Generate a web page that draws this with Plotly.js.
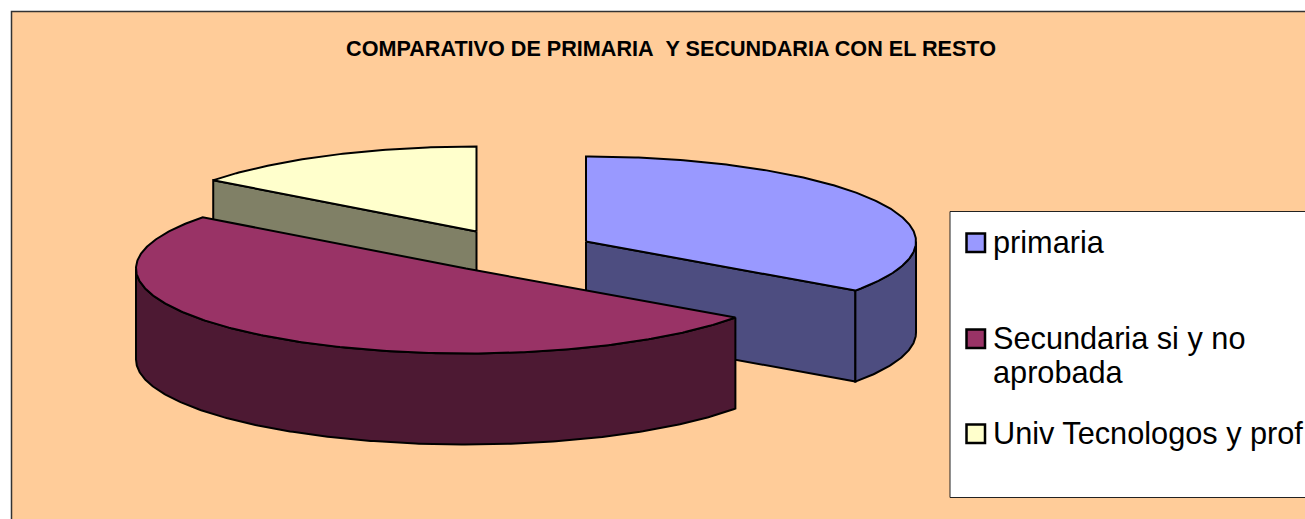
<!DOCTYPE html>
<html>
<head>
<meta charset="utf-8">
<script src="https://cdn.plot.ly/plotly-3.0.1.min.js"></script>
<style>html,body{margin:0;padding:0;background:#fff;overflow:hidden}</style>
</head>
<body>
<div id="chart" style="width:1305px;height:519px"></div>
<script>
// Data
const categories = ['primaria', 'Secundaria si y no<br>aprobada', 'Univ Tecnologos y prof'];
const shares = [34.8, 50.5, 14.7];
const topColors = ['#9999FF', '#993366', '#FFFFCC'];
const sideColors = ['#4D4D80', '#4D1933', '#808066'];
const chartTitle = 'COMPARATIVO DE PRIMARIA&nbsp;&nbsp;Y SECUNDARIA CON EL RESTO';

// Projection of the exploded 3-D pie on to the page
const RX = 330, RY = 85, DEPTH = 91;
const apexes = [[586, 241.5], [466, 268.5], [476.5, 231.5]];
const paintOrder = [2, 0, 1];
const LW = 2;

const total = shares.reduce((a, b) => a + b, 0);
let running = 0;
const slices = shares.map((v, i) => {
  const a0 = running / total * 2 * Math.PI;
  running += v;
  return {i, a0, a1: running / total * 2 * Math.PI};
});
const pt = (c, a, d) => [c[0] + RX * Math.sin(a), c[1] - RY * Math.cos(a) + d];
const arc = (c, a0, a1, d) => {
  const n = Math.max(2, Math.ceil((a1 - a0) / 0.01));
  const out = [];
  for (let k = 0; k <= n; k++) out.push(pt(c, a0 + (a1 - a0) * k / n, d));
  return out;
};
const poly = (pts, fill, name, hover) => ({
  type: 'scatter', mode: 'lines', fill: 'toself', fillcolor: fill,
  x: pts.map(p => p[0]), y: pts.map(p => p[1]),
  line: {color: '#000', width: LW, shape: 'linear'},
  name: name, showlegend: false, hoverinfo: hover ? 'name' : 'skip'
});
const face = (s, a) => {
  const c = apexes[s.i], p = pt(c, a, 0), q = pt(c, a, DEPTH);
  return poly([[c[0], c[1]], p, q, [c[0], c[1] + DEPTH], [c[0], c[1]]], sideColors[s.i], categories[s.i]);
};
const traces = [];
paintOrder.forEach(idx => {
  const s = slices[idx], c = apexes[idx];
  // cut faces turned to the viewer
  if (Math.cos(s.a0 - Math.PI / 2) < -1e-6) traces.push(face(s, s.a0));
  if (Math.cos(s.a1 + Math.PI / 2) < -1e-6) traces.push(face(s, s.a1));
  // visible part of the rim
  const r0 = Math.max(s.a0, Math.PI / 2), r1 = Math.min(s.a1, 3 * Math.PI / 2);
  if (r1 > r0) {
    const up = arc(c, r0, r1, 0), down = arc(c, r0, r1, DEPTH).reverse();
    traces.push(poly(up.concat(down, [up[0]]), sideColors[idx], categories[idx]));
  }
  // top surface
  const top = [[c[0], c[1]]].concat(arc(c, s.a0, s.a1, 0), [[c[0], c[1]]]);
  traces.push(poly(top, topColors[idx], categories[idx].replace('<br>', ' ') + ': ' + shares[idx] + '%', true));
});

// Legend drawn inside the axes
const FONT = 'Liberation Sans, Arial, sans-serif';
const legendY = [243, 339, 434];
const LINE_GAP = 34;
const shapes = [
  {type: 'rect', layer: 'below', xref: 'x', yref: 'y', x0: 11.5, y0: 11.5, x1: 1340, y1: 560,
   fillcolor: '#FFCC99', line: {color: '#333', width: 1.5}},
  {type: 'rect', layer: 'above', xref: 'x', yref: 'y', x0: 950, y0: 211.5, x1: 1340, y1: 497.5,
   fillcolor: '#fff', line: {color: '#222', width: 1}}
];
const annotations = [];
categories.forEach((c, i) => {
  shapes.push({type: 'rect', layer: 'above', xref: 'x', yref: 'y',
    x0: 966.5, x1: 985, y0: legendY[i] - 9.5, y1: legendY[i] + 9,
    fillcolor: topColors[i], line: {color: '#000', width: 2.5}});
  c.split('<br>').forEach((lineText, k) => {
    annotations.push({xref: 'x', yref: 'y', x: 993, y: legendY[i] - 1 + k * LINE_GAP, text: lineText, showarrow: false,
      xanchor: 'left', yanchor: 'middle', align: 'left', borderpad: 0, borderwidth: 0,
      font: {family: FONT, size: 30.7, color: '#000'}});
  });
});

Plotly.newPlot('chart', traces, {
  width: 1305, height: 519,
  margin: {l: 0, r: 0, t: 0, b: 0},
  paper_bgcolor: '#fff', plot_bgcolor: 'rgba(0,0,0,0)',
  showlegend: false,
  title: {text: chartTitle, x: 671 / 1305, xanchor: 'center', y: 1 - 48 / 519, yanchor: 'middle',
    font: {family: FONT, size: 21.6, color: '#000', weight: 700}},
  xaxis: {range: [0, 1305], visible: false, fixedrange: true},
  yaxis: {range: [519, 0], visible: false, fixedrange: true},
  shapes, annotations
}, {displayModeBar: false});
</script>
</body>
</html>
